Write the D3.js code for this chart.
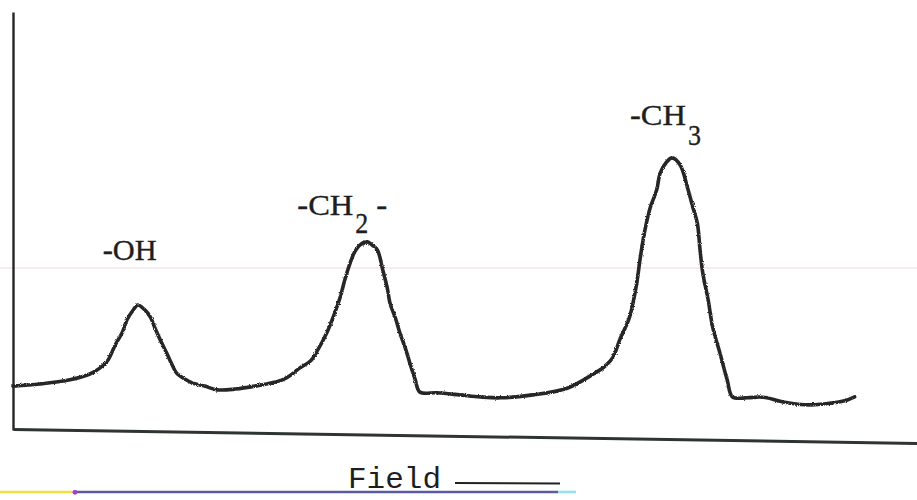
<!DOCTYPE html>
<html>
<head>
<meta charset="utf-8">
<script src="https://cdn.jsdelivr.net/npm/d3@7/dist/d3.min.js"></script>
<style>
  html, body { margin: 0; padding: 0; background: #ffffff; }
  svg { display: block; }
</style>
</head>
<body>
<svg id="chart" width="917" height="500"></svg>
<script>
// ---- DATA ----
// Field position (arbitrary units, 0 = left axis, 100 = right end)
const field = [
  0, 3.0, 6.3, 8.5, 9.6, 10.5, 11.3, 12.1, 12.6, 13.3, 13.8, 14.5, 15.2, 15.7, 16.3, 17.0, 17.6, 18.1, 19.0, 19.9,
  21.2, 22.6, 24.6, 26.8, 28.4, 29.8, 30.9, 31.7, 32.9, 33.7, 34.7, 35.5, 36.2, 36.7, 37.3, 37.8, 38.4, 39.2, 39.7, 40.3,
  40.9, 41.4, 41.7, 42.3, 42.8, 43.4, 43.9, 44.5, 45.0, 46.9, 49.4, 51.7, 53.9, 57.5, 61.3, 64.2, 65.5, 66.4, 67.1, 68.2,
  69.0, 69.4, 69.9, 70.5, 71.2, 71.6, 72.3, 72.9, 73.8, 74.6, 75.2, 75.7, 76.0, 76.3, 76.9, 77.4, 78.2, 79.0, 79.6, 81.2,
  82.6, 83.4, 85.2, 88.2, 90.7, 92.3, 93.1
];
// Signal intensity (arbitrary units, 0 = x axis, 100 = top of y axis)
const intensity = [
  10.5, 11.0, 12.0, 13.4, 14.8, 16.7, 20.3, 23.4, 26.3, 28.7, 29.9, 28.9, 27.0, 24.4, 21.5, 18.4, 15.6, 13.6, 12.2, 11.2,
  10.5, 9.6, 9.8, 10.5, 11.2, 12.0, 13.4, 14.8, 16.5, 19.1, 23.2, 27.5, 31.8, 35.9, 40.0, 42.6, 44.3, 45.0, 44.3, 43.1,
  38.3, 34.0, 30.4, 26.8, 23.2, 19.6, 16.0, 12.0, 9.1, 8.9, 8.4, 7.9, 7.7, 8.4, 10.0, 13.4, 15.3, 17.5, 21.5, 27.0,
  35.2, 41.4, 47.8, 53.3, 57.4, 61.5, 64.1, 65.1, 63.4, 58.1, 53.3, 49.5, 43.1, 37.6, 31.1, 24.6, 18.4, 12.0, 7.9, 7.7,
  7.9, 7.7, 6.7, 6.0, 6.5, 7.2, 7.9
];
// Peak labels: text, subscript, trailing text, field position of peak
const peakNames   = ["-OH", "-CH", "-CH"];
const peakSubs    = ["", "2", "3"];
const peakTrails  = ["", "-", ""];
const peakFields  = [13.8, 39.2, 72.9];
const xLabel = "Field";

// ---- LAYOUT ----
const svg = d3.select("#chart");
const W = 917, H = 500;
const plot = { left: 13, right: 917, top: 12, bottom: 430 };

const x = d3.scaleLinear().domain([0, 100]).range([plot.left, plot.right]);
const y = d3.scaleLinear().domain([0, 100]).range([plot.bottom, plot.top]);

const ink = "#262626";

// rough "pen on paper" filter
const defs = svg.append("defs");
const f = defs.append("filter").attr("id", "rough")
  .attr("x", "-5%").attr("y", "-5%").attr("width", "110%").attr("height", "110%");
f.append("feTurbulence").attr("type", "fractalNoise").attr("baseFrequency", 1.1)
  .attr("numOctaves", 1).attr("seed", 3).attr("result", "n");
f.append("feDisplacementMap").attr("in", "SourceGraphic").attr("in2", "n")
  .attr("scale", 2.8).attr("xChannelSelector", "R").attr("yChannelSelector", "G");

// faint scan line
svg.append("line")
  .attr("x1", 0).attr("x2", W).attr("y1", 268).attr("y2", 268)
  .attr("stroke", "#f1e6e8").attr("stroke-width", 1.5);

// y axis (bare line)
svg.append("g")
  .attr("transform", `translate(${plot.left},0)`)
  .call(d3.axisLeft(y).ticks(0).tickSize(0).tickFormat(""))
  .call(g => g.select(".domain").attr("stroke", ink).attr("stroke-width", 2.4));

// x axis (bare line, slightly skewed as in the scan)
svg.append("g")
  .attr("transform", `translate(0,${plot.bottom - 1}) rotate(0.88, ${plot.left}, 0)`)
  .call(d3.axisBottom(x).ticks(0).tickSize(0).tickFormat(""))
  .call(g => g.select(".domain").attr("stroke", "#2e3431").attr("stroke-width", 3));

// spectrum trace
const pts = field.map((v, i) => [v, intensity[i]]);
const line = d3.line().x(d => x(d[0])).y(d => y(d[1])).curve(d3.curveCatmullRom.alpha(0.5));
svg.append("path")
  .datum(pts)
  .attr("d", line)
  .attr("fill", "none")
  .attr("stroke", ink)
  .attr("stroke-width", 3.6)
  .attr("stroke-linejoin", "round")
  .attr("stroke-linecap", "round")
  .attr("filter", "url(#rough)");

// peak labels
const labelOffsets = [ // dx from peak to label start, baseline y, width of main text
  { dx: -35, base: 260, w: 54 },
  { dx: -70, base: 215, w: 56 },
  { dx: -42, base: 125, w: 56 }
];
peakNames.forEach((name, i) => {
  const o = labelOffsets[i];
  const px = x(peakFields[i]) + o.dx;
  const t = svg.append("text")
    .attr("x", px).attr("y", o.base)
    .attr("font-family", "'Liberation Serif', 'DejaVu Serif', serif")
    .attr("font-size", 30)
    .attr("fill", "#1e1e1e")
    .attr("stroke", "#1e1e1e").attr("stroke-width", 0.35);
  t.append("tspan").text(name)
    .attr("textLength", o.w).attr("lengthAdjust", "spacingAndGlyphs");
  if (peakSubs[i]) {
    t.append("tspan").text(peakSubs[i]).attr("dx", 2).attr("dy", i === 1 ? 18 : 20)
      .attr("textLength", 13).attr("lengthAdjust", "spacingAndGlyphs");
  }
  if (peakTrails[i]) {
    t.append("tspan").text(peakTrails[i]).attr("dx", 8).attr("dy", -18)
      .attr("textLength", 11).attr("lengthAdjust", "spacingAndGlyphs");
  }
});

// x label with arrow-line
svg.append("text")
  .attr("x", 348).attr("y", 488)
  .attr("font-family", "'Liberation Mono', 'DejaVu Sans Mono', monospace")
  .attr("font-size", 30)
  .attr("textLength", 93).attr("lengthAdjust", "spacingAndGlyphs")
  .attr("fill", "#1e1e1e")
  .text(xLabel);
svg.append("line")
  .attr("x1", 455).attr("x2", 560).attr("y1", 483).attr("y2", 483.5)
  .attr("stroke", "#222").attr("stroke-width", 2);

// coloured scan stripe along the bottom
const stripe = [
  { x1: 0, x2: 73, c: "#f3df3f" },
  { x1: 73, x2: 558, c: "#5a5aa8" },
  { x1: 558, x2: 576, c: "#93e1ee" }
];
svg.selectAll(".stripe").data(stripe).join("line")
  .attr("class", "stripe")
  .attr("x1", d => d.x1).attr("x2", d => d.x2)
  .attr("y1", 492).attr("y2", 492)
  .attr("stroke", d => d.c).attr("stroke-width", 2.6);
svg.append("circle").attr("cx", 75).attr("cy", 492.3).attr("r", 2.4).attr("fill", "#a33fd0");
</script>
</body>
</html>
